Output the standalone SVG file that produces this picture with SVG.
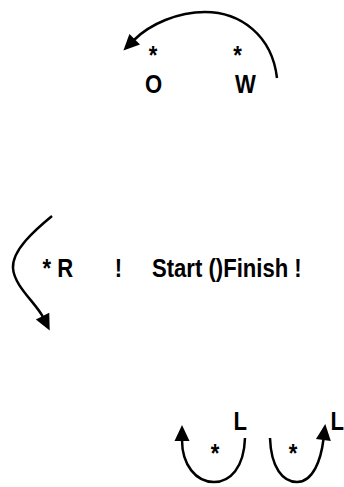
<svg xmlns="http://www.w3.org/2000/svg" width="344" height="487" viewBox="0 0 344 487">
<style>
text{font-family:"Liberation Sans",Arial,Helvetica,sans-serif;font-weight:bold;font-size:26px;fill:#000}
.m{text-anchor:middle}
.e{fill:none;stroke:#000;stroke-width:2.5}
</style>
<defs>
<marker id="ah" markerUnits="userSpaceOnUse" markerWidth="16" markerHeight="15" refX="0" refY="7.5" orient="auto" overflow="visible">
<path d="M-1,0 L15,7.5 L-1,15 z" fill="#000"/>
</marker>
</defs>
<rect width="344" height="487" fill="#fff"/>
<g id="connectors">
<path class="e" d="M277,78 C272,35 240,12 205,12 C178,12 150,24 134,40" marker-end="url(#ah)"/>
<path class="e" d="M52,216 C35,230 12,250 13,268 C14,286 36,303 43,317" marker-end="url(#ah)"/>
<path class="e" d="M245,438 C244,468 230,482 214,482 C196,482 182,465 182,440" marker-end="url(#ah)"/>
<path class="e" d="M270,438 C271,468 283,482 297,482 C313,482 321,460 323.5,439" marker-end="url(#ah)"/>
</g>
<g id="node-star-o"><text class="m" transform="translate(153,64) scale(0.85,1)">*</text></g>
<g id="node-o"><text class="m" transform="translate(153.5,93) scale(0.85,1)">O</text></g>
<g id="node-star-w"><text class="m" transform="translate(237.5,64) scale(0.85,1)">*</text></g>
<g id="node-w"><text class="m" transform="translate(245.5,93) scale(0.85,1)">W</text></g>
<g id="node-r"><text transform="translate(42.4,277) scale(0.85,1)">* R</text></g>
<g id="node-bang"><text class="m" transform="translate(118.5,277) scale(0.85,1)">!</text></g>
<g id="node-start"><text transform="translate(152,277) scale(0.85,1)">Start ()Finish !</text></g>
<g id="node-l1"><text transform="translate(233.4,430) scale(0.85,1)">L</text></g>
<g id="node-star-l1"><text class="m" transform="translate(215,462) scale(0.85,1)">*</text></g>
<g id="node-l2"><text transform="translate(330.4,430) scale(0.85,1)">L</text></g>
<g id="node-star-l2"><text class="m" transform="translate(293,462) scale(0.85,1)">*</text></g>
</svg>
